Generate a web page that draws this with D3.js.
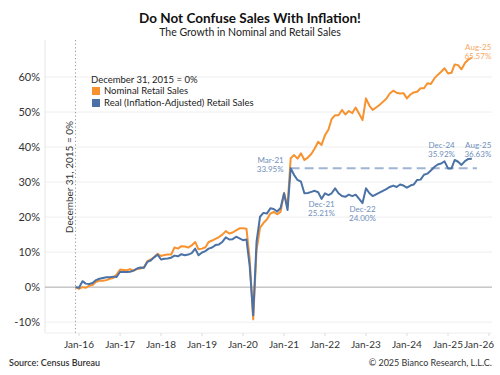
<!DOCTYPE html>
<html>
<head>
<meta charset="utf-8">
<script src="https://cdn.jsdelivr.net/npm/d3@7"></script>
<style>
  body { margin: 0; background: #fff; }
  svg { display: block; font-family: Lato, "Open Sans", sans-serif; }
</style>
</head>
<body>
<svg id="chart" width="500" height="375"></svg>
<script>
// monthly % growth since Dec-2015, first value is Dec-15
const startMonth = new Date(2015, 11, 1)

const nominal = [
  0, -0.5, 0.0, -0.2, 0.4, 0.6, 1.5, 1.8, 1.8, 2.0, 2.4, 2.6,
  3.6, 5.0, 4.9, 4.8, 5.1, 4.7, 5.2, 5.3, 5.6, 7.4, 7.9, 8.6,
  9.5, 8.9, 9.2, 9.3, 9.3, 11.3, 11.0, 11.7, 11.6, 11.3, 11.9, 12.9,
  10.8, 11.0, 11.4, 12.9, 13.3, 13.8, 14.3, 15.0, 16.0, 15.3, 15.6, 16.2,
  16.8, 16.8, 16.7, 8.0, -9.2, 10.5, 17.0, 18.3, 19.3, 21.0, 21.5, 20.8,
  21.5, 26.8, 23.0, 36.8, 37.7, 36.7, 38.2, 36.3, 37.0, 38.0, 39.6, 41.5,
  40.6, 43.4, 45.0, 48.0, 49.1, 49.1, 50.6, 49.3, 50.3, 49.7, 51.3, 49.5,
  47.7, 53.9, 51.8, 50.6, 51.3, 52.0, 52.9, 53.8, 55.3, 56.1, 55.5, 55.3,
  55.4, 53.9, 55.0, 55.6, 55.8, 56.8, 56.8, 58.2, 58.0, 59.6, 60.6, 61.5,
  62.5, 61.0, 61.2, 63.6, 63.4, 62.2, 64.0, 65.0, 65.57
]

const real = [
  0, -0.2, 1.7, 1.0, 0.9, 1.2, 2.0, 2.4, 2.6, 2.8, 2.8, 3.0,
  2.9, 4.4, 4.3, 4.3, 4.4, 4.7, 5.3, 5.6, 5.5, 7.2, 7.6, 8.5,
  9.3, 7.9, 8.1, 8.2, 8.4, 9.0, 8.8, 9.4, 9.1, 9.3, 9.7, 11.0,
  9.1, 9.9, 10.3, 11.0, 11.3, 12.0, 12.2, 12.9, 14.2, 13.6, 13.7, 14.4,
  13.9, 13.4, 13.6, 6.0, -8.0, 13.0, 20.1, 21.2, 21.0, 22.5, 22.3, 21.6,
  22.6, 26.8, 22.0, 33.95, 32.0, 30.6, 30.1, 26.8, 26.9, 27.2, 27.5, 27.1,
  25.21, 26.8, 26.3, 26.8, 28.2, 26.8, 26.0, 25.8, 26.4, 26.0, 26.4, 25.2,
  24.00, 28.2, 26.8, 26.0, 26.5, 27.0, 27.5, 28.0, 28.6, 29.0, 28.6, 29.3,
  29.0, 28.4, 29.0, 29.3, 30.6, 30.7, 32.1, 32.4, 33.3, 34.3, 35.0, 35.3,
  35.92, 33.9, 33.9, 36.3, 35.8, 34.9, 36.0, 36.6, 36.63
]

const yTicks = [-10, 0, 10, 20, 30, 40, 50, 60]
const xTickYears = [2016, 2017, 2018, 2019, 2020, 2021, 2022, 2023, 2024, 2025, 2026]

// labelled points
const callouts = [
  { series: 'real', idx: 63, name: 'Mar-21' },
  { series: 'real', idx: 72, name: 'Dec-21' },
  { series: 'real', idx: 84, name: 'Dec-22' },
  { series: 'real', idx: 108, name: 'Dec-24' },
  { series: 'real', idx: 116, name: 'Aug-25' },
  { series: 'nominal', idx: 116, name: 'Aug-25' }
]

const colors = {
  nominal: '#f7922f',
  real: '#4a72a6',
  nominalText: '#f6a965',
  realText: '#6f8fbb',
  dashed: '#9fb5d3'
}

const plot = { left: 45, right: 492, top: 40, bottom: 333 }

const dateOf = (i) => new Date(startMonth.getFullYear(), startMonth.getMonth() + i, 1)

const x = d3.scaleTime()
  .domain([new Date(2016, 0, 1), new Date(2026, 0, 1)])
  .range([79, 489])

const y = d3.scaleLinear()
  .domain([-13.1, 70])
  .range([plot.bottom, 42])

const svg = d3.select('#chart')

// ------- TITLES ------- //
svg.append('text')
  .attr('x', 250).attr('y', 23)
  .attr('text-anchor', 'middle')
  .attr('font-size', 13.5).attr('font-weight', 700)
  .attr('fill', '#111')
  .text('Do Not Confuse Sales With Inflation!')

svg.append('text')
  .attr('x', 250).attr('y', 36)
  .attr('text-anchor', 'middle')
  .attr('font-size', 10.5)
  .attr('fill', '#222')
  .text('The Growth in Nominal and Retail Sales')

// ------- GRID ------- //
svg.append('g')
  .selectAll('line')
  .data(yTicks.filter(t => t !== 0))
  .enter().append('line')
    .attr('x1', plot.left).attr('x2', plot.right)
    .attr('y1', d => y(d)).attr('y2', d => y(d))
    .attr('stroke', '#eeeeee').attr('stroke-width', 1)

// left edge + bottom edge
svg.append('line')
  .attr('x1', plot.left).attr('x2', plot.left)
  .attr('y1', plot.top).attr('y2', plot.bottom)
  .attr('stroke', '#e6e6e6')
svg.append('line')
  .attr('x1', plot.left).attr('x2', plot.right)
  .attr('y1', plot.bottom).attr('y2', plot.bottom)
  .attr('stroke', '#eeeeee')

svg.append('line')
  .attr('x1', plot.left).attr('x2', plot.right)
  .attr('y1', y(0)).attr('y2', y(0))
  .attr('stroke', '#a8a8a8').attr('stroke-width', 1)

// y labels
svg.append('g')
  .selectAll('text')
  .data(yTicks)
  .enter().append('text')
    .attr('x', 40).attr('y', d => y(d))
    .attr('dy', '0.35em')
    .attr('text-anchor', 'end')
    .attr('font-size', 11)
    .attr('fill', '#333')
    .text(d => d + '%')

// x ticks + labels
const xAxis = svg.append('g')
xAxis.selectAll('line')
  .data(xTickYears)
  .enter().append('line')
    .attr('x1', d => x(new Date(d, 0, 1))).attr('x2', d => x(new Date(d, 0, 1)))
    .attr('y1', plot.bottom).attr('y2', plot.bottom + 3)
    .attr('stroke', '#dddddd')
xAxis.selectAll('text')
  .data(xTickYears)
  .enter().append('text')
    .attr('x', d => d === 2026 ? 494 : x(new Date(d, 0, 1)))
    .attr('y', 348)
    .attr('text-anchor', d => d === 2026 ? 'end' : 'middle')
    .attr('font-size', 10)
    .attr('fill', '#333')
    .text(d => 'Jan-' + String(d).slice(2))

// ------- BASE DATE MARKER ------- //
const baseX = x(startMonth)
svg.append('line')
  .attr('x1', baseX).attr('x2', baseX)
  .attr('y1', plot.top).attr('y2', plot.bottom)
  .attr('stroke', '#999').attr('stroke-width', 1)
  .attr('stroke-dasharray', '1.2,2.4')

svg.append('text')
  .attr('transform', `translate(${baseX - 3},177) rotate(-90)`)
  .attr('text-anchor', 'middle')
  .attr('font-size', 10)
  .attr('fill', '#333')
  .text('December 31, 2015 = 0%')

// ------- LEGEND ------- //
const legend = svg.append('g').attr('transform', 'translate(91,0)')
legend.append('text')
  .attr('x', 0).attr('y', 80).attr('dy', '0.35em')
  .attr('font-size', 9.5).attr('fill', '#222')
  .text('December 31, 2015 = 0%')
const legendItems = [
  { key: 'nominal', label: 'Nominal Retail Sales', cy: 91 },
  { key: 'real', label: 'Real (Inflation-Adjusted) Retail Sales', cy: 103 }
]
legendItems.forEach(item => {
  legend.append('rect')
    .attr('x', 1).attr('y', item.cy - 4).attr('width', 8).attr('height', 8)
    .attr('fill', colors[item.key])
  legend.append('text')
    .attr('x', 13).attr('y', item.cy).attr('dy', '0.35em')
    .attr('font-size', 9.5).attr('fill', '#222')
    .text(item.label)
})

// ------- SERIES ------- //
const line = d3.line()
  .x((d, i) => x(dateOf(i)))
  .y(d => y(d))

// Mar-21 reference level
const peak = real[63]
svg.append('line')
  .attr('x1', x(dateOf(63))).attr('x2', 477)
  .attr('y1', y(peak)).attr('y2', y(peak))
  .attr('stroke', colors.dashed).attr('stroke-width', 2)
  .attr('stroke-dasharray', '9,5')

svg.append('path')
  .datum(nominal)
  .attr('d', line)
  .attr('fill', 'none')
  .attr('stroke', colors.nominal).attr('stroke-width', 2)
  .attr('stroke-linejoin', 'round')

svg.append('path')
  .datum(real)
  .attr('d', line)
  .attr('fill', 'none')
  .attr('stroke', colors.real).attr('stroke-width', 2)
  .attr('stroke-linejoin', 'round')

// ------- CALLOUTS ------- //
const calloutPos = {
  'real-63': { dx: -7, dy: -5, anchor: 'end' },
  'real-72': { dx: 0, dy: 8.5, anchor: 'middle' },
  'real-84': { dx: 0, dy: 9, anchor: 'middle' },
  'real-108': { dx: -3, dy: -13, anchor: 'middle' },
  'real-116': { dx: 19.5, dy: -11, anchor: 'end' },
  'nominal-116': { dx: 19.5, dy: -7.5, anchor: 'end' }
}

callouts.forEach(c => {
  const data = c.series === 'real' ? real : nominal
  const v = data[c.idx]
  const p = calloutPos[c.series + '-' + c.idx]
  const tx = x(dateOf(c.idx)) + p.dx
  const t = svg.append('text')
    .attr('x', tx)
    .attr('y', y(v) + p.dy)
    .attr('text-anchor', p.anchor)
    .attr('font-size', 8)
    .attr('fill', c.series === 'real' ? colors.realText : colors.nominalText)
  t.append('tspan').attr('x', tx).text(c.name)
  t.append('tspan').attr('x', tx).attr('dy', 9).text(v.toFixed(2) + '%')
})

// ------- FOOTER ------- //
svg.append('text')
  .attr('x', 9).attr('y', 366)
  .attr('font-size', 9).attr('font-weight', 600)
  .attr('fill', '#333')
  .text('Source: Census Bureau')

svg.append('text')
  .attr('x', 492).attr('y', 366)
  .attr('text-anchor', 'end')
  .attr('font-size', 9)
  .attr('fill', '#333')
  .text('\u00a9 2025 Bianco Research, L.L.C.')
</script>
</body>
</html>
